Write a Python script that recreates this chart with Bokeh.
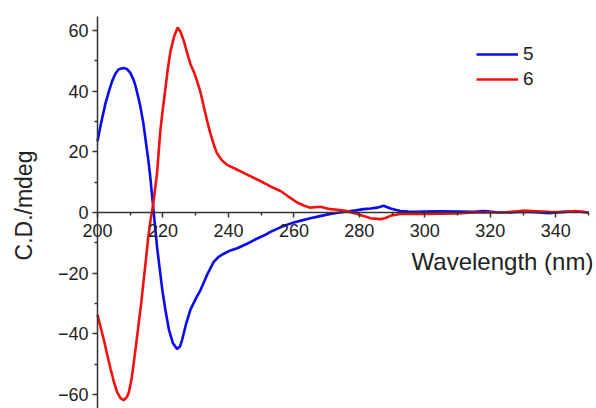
import math
from bokeh.plotting import figure
from bokeh.models import LinearAxis, FixedTicker, Range1d, Label, Legend, LegendItem
from bokeh.embed import file_html
from bokeh.resources import INLINE

# ---- data ----
wl_5 = [200, 201, 202.4, 203.5, 204.5, 205.5, 206.5, 208, 209, 210, 211, 211.6, 212.5, 213.1,
        214, 214.7, 215.5, 216, 217, 218.2, 219, 219.8, 220.8, 221.8, 223, 224.3, 225.2, 225.9,
        227, 228.4, 230, 231.5, 233.5, 235.5, 237, 238.6, 240.6, 242.7, 245.7, 248, 250.8, 253,
        255.9, 258, 260, 262.5, 265, 268, 271.1, 274, 276.2, 279, 281.3, 283.5, 285.4, 287.4,
        289.5, 292.5, 295, 297.6, 300, 305, 310, 315, 318, 322, 326, 330, 334, 338, 342, 346, 350]
cd_5 = [23.5, 29, 35.8, 40, 43.4, 45.8, 47.2, 47.6, 47.3, 46.1, 43.8, 41.8, 37.8, 34.9,
        29.5, 23.9, 17.5, 13, 2, -11.4, -18.5, -25.5, -32.5, -38.5, -43, -45, -44.2, -41.8,
        -37, -32, -28.5, -25.5, -20.5, -16.3, -14.6, -13.6, -12.5, -11.8, -10.3, -9, -7.6, -6.3,
        -4.9, -4, -3.3, -2.6, -1.9, -1.2, -0.5, 0, 0.3, 0.7, 1.1, 1.3, 1.6, 2.2,
        1.3, 0.5, 0.3, 0.2, 0.3, 0.4, 0.3, 0.2, 0.5, 0.1, 0.0, 0.3, 0.1, -0.2, 0.2, 0.4, 0.0]

wl_6 = [200, 201, 201.9, 203, 204, 205, 206, 207, 208, 209, 209.6, 210.4, 211.1, 212, 212.6,
        213.4, 214.1, 214.8, 215.4, 216.2, 217, 218.2, 219.2, 220, 220.8, 221.5, 222.3, 223.4,
        224.5, 225.4, 226.4, 227.4, 228.4, 229.4, 230.4, 231.5, 232.5, 233.5, 234.5, 235.5,
        236.5, 238, 239.6, 242.7, 245.7, 248, 250.8, 253, 255.9, 258, 261, 263, 265, 268.1,
        271.1, 274, 276.2, 279.3, 281.5, 283.4, 286.4, 288, 289.5, 292.5, 296, 300, 305, 310,
        315, 320, 325, 330, 334, 338, 342, 346, 350]
cd_6 = [-33.7, -38, -41.8, -47, -51.6, -55.8, -59.2, -61.2, -61.9, -60.8, -59.2, -55, -49.4, -41.8, -36.4,
        -29.5, -22.3, -15.5, -9.2, -2.5, 2.5, 13, 27, 34.5, 41.3, 47.5, 53.2, 58,
        61, 59.5, 56.5, 52.5, 48.9, 46.5, 43.4, 39.5, 34.8, 30.2, 26, 22.5,
        19.5, 17.2, 15.7, 14.1, 12.5, 11.3, 9.8, 8.5, 7.1, 5.5, 3.3, 2.3, 1.6, 1.9,
        1.1, 0.8, 0.5, -0.5, -1.2, -1.9, -2.2, -1.8, -1.1, -0.5, -0.4, -0.5, -0.4, -0.3,
        0.0, 0.0, 0.1, 0.6, 0.4, 0.2, 0.1, 0.5, 0.0]

x_ticks = [200, 220, 240, 260, 280, 300, 320, 340]
x_minor = [210, 230, 250, 270, 290, 310, 330, 350]
y_ticks = [-60, -40, -20, 0, 20, 40, 60]
y_minor = [-50, -30, -10, 10, 30, 50]
series_labels = ["5", "6"]
x_title = "Wavelength (nm)"
y_title = "C.D./mdeg"

FONT = "Liberation Sans"
AX = "#333333"
TXT = "#222222"

p = figure(width=596, height=408, output_backend="svg", toolbar_location=None,
           x_range=Range1d(170.37, 352.44), y_range=Range1d(-64.62, 69.89),
           x_axis_location=None, y_axis_location=None,
           min_border_left=0, min_border_right=0, min_border_top=0, min_border_bottom=0)
p.outline_line_color = None
p.xgrid.visible = False
p.ygrid.visible = False
p.background_fill_color = "white"

r5 = p.line(wl_5, cd_5, line_color="#0A0AF0", line_width=2.6)
r6 = p.line(wl_6, cd_6, line_color="#F51010", line_width=2.6)

# x axis drawn through y = 0, y axis drawn at x = 200
xa = LinearAxis(fixed_location=0, bounds=(200, 350),
                ticker=FixedTicker(ticks=x_ticks, minor_ticks=x_minor))
ya = LinearAxis(fixed_location=200, bounds=(-64.6, 64.5),
                ticker=FixedTicker(ticks=y_ticks, minor_ticks=y_minor))

for ax in (xa, ya):
    ax.axis_line_color = AX
    ax.axis_line_width = 1.5
    ax.major_tick_line_color = AX
    ax.minor_tick_line_color = AX
    ax.major_tick_line_width = 1.5
    ax.minor_tick_line_width = 1.5
    ax.major_tick_in = 0
    ax.major_tick_out = 5
    ax.minor_tick_in = 0
    ax.minor_tick_out = 3
    ax.major_label_text_font = FONT
    ax.major_label_text_font_size = "18px"
    ax.major_label_text_color = TXT

xa.major_label_standoff = 7
ya.major_label_standoff = 4

p.add_layout(xa, "below")
p.add_layout(ya, "left")

p.add_layout(Label(x=351.5, y=-16.0, text=x_title,
                   text_align="right", text_baseline="middle",
                   text_font=FONT, text_font_size="24px", text_color=TXT))
p.add_layout(Label(x=177.4, y=2.3, text=y_title, angle=math.pi / 2,
                   text_align="center", text_baseline="middle",
                   text_font=FONT, text_font_size="23px", text_color=TXT))

legend = Legend(items=[LegendItem(label=series_labels[0], renderers=[r5]),
                       LegendItem(label=series_labels[1], renderers=[r6])],
                location=(476, 318), orientation="vertical",
                glyph_width=42, glyph_height=20, label_height=20, spacing=3,
                label_standoff=5, padding=0, margin=0,
                border_line_color=None, background_fill_alpha=0,
                label_text_font=FONT, label_text_font_size="19px", label_text_color=TXT)
p.add_layout(legend)

open("out.html", "w").write(file_html(p, INLINE))
